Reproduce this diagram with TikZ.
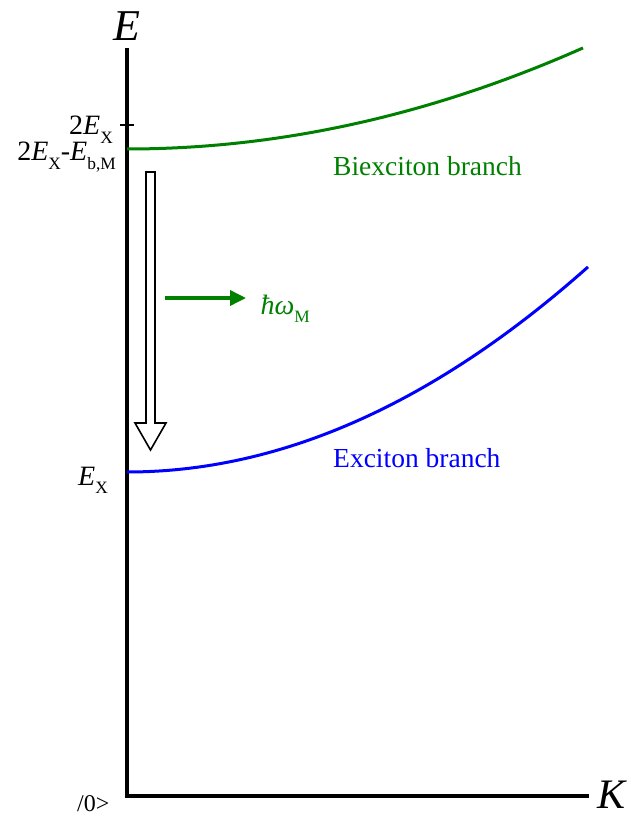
\documentclass[tikz,border=0pt]{standalone}
\usepackage{fontspec}
\setmainfont{Liberation Serif}
\usetikzlibrary{arrows.meta,positioning}
\definecolor{BXGreen}{HTML}{008000}
\definecolor{BXBlue}{HTML}{0000FF}
\newcommand{\lowsub}[1]{\raisebox{-0.32em}{\scalebox{0.62}{#1}}}
\tikzset{
  bxaxis/.style={draw=black,line width=4pt},
  bxlevel/.style={anchor=base east,inner sep=0pt,font=\fontsize{28}{32}\selectfont},
  bxbranch/.style={line width=3pt},
  bxname/.style={anchor=base west,inner sep=0pt,font=\fontsize{27.5}{32}\selectfont},
  bxdecay/.style={draw=black,fill=white,line width=1.6pt,line join=miter},
  bxemit/.style={-{Triangle[length=16pt,width=15pt]},draw=BXGreen,line width=3.5pt}
}

\begin{document}
\begin{tikzpicture}[x=1pt,y=-1pt]
  \useasboundingbox (0,0) rectangle (630,818);
  % axes
  \coordinate (origin) at (127,796);
  \coordinate (etop) at (127,48);
  \coordinate (kend) at (589,796);
  \draw[bxaxis] (etop) -- (origin) -- (kend);
  \node[font=\fontsize{44}{48}\selectfont\itshape] (elab) at (127,26) {E};
  \node[font=\fontsize{42}{46}\selectfont\itshape,anchor=base west,inner sep=0pt] (klab) at (597,808) {K};
  \node[anchor=base west,inner sep=0pt,font=\fontsize{24}{28}\selectfont] (vac) at (77,811) {/0>};
  % levels
  \coordinate (twoex) at (127,125);
  \draw[line width=2pt] ([xshift=-7pt]twoex) -- ([xshift=7pt]twoex);
  \node[bxlevel] (twoexlab) at (113,135) {2\textit{E}\lowsub{X}};
  \node[bxlevel] (bmlab) at (116,161) {2\textit{E}\lowsub{X}-\textit{E}\lowsub{b,M}};
  \node[bxlevel] (exlab) at (108,485) {\textit{E}\lowsub{X}};
  % branches
  \draw[bxbranch,BXGreen] plot[domain=127:583,samples=60] (\x,{149-4.86*((\x-127)/100)^2});
  \draw[bxbranch,BXBlue] plot[domain=127:588,samples=60] (\x,{472-9.65*((\x-127)/100)^2});
  \node[bxname,text=BXGreen] (bxx) at (333,176) {Biexciton branch};
  \node[bxname,text=BXBlue] (bx) at (333,467) {Exciton branch};
  % decay and photon
  \draw[bxdecay] (146,172) -- (155,172) -- (155,423) -- (166,423) -- (150.5,450)
    -- (135,423) -- (146,423) -- cycle;
  \coordinate (emitstart) at (165,298);
  \node[anchor=base west,text=BXGreen,font=\fontsize{28}{32}\selectfont] (hw) at (257,314)
    {\textit{ħω}\lowsub{M}};
  \draw[bxemit] (emitstart) -- (246,298);
\end{tikzpicture}
\end{document}
